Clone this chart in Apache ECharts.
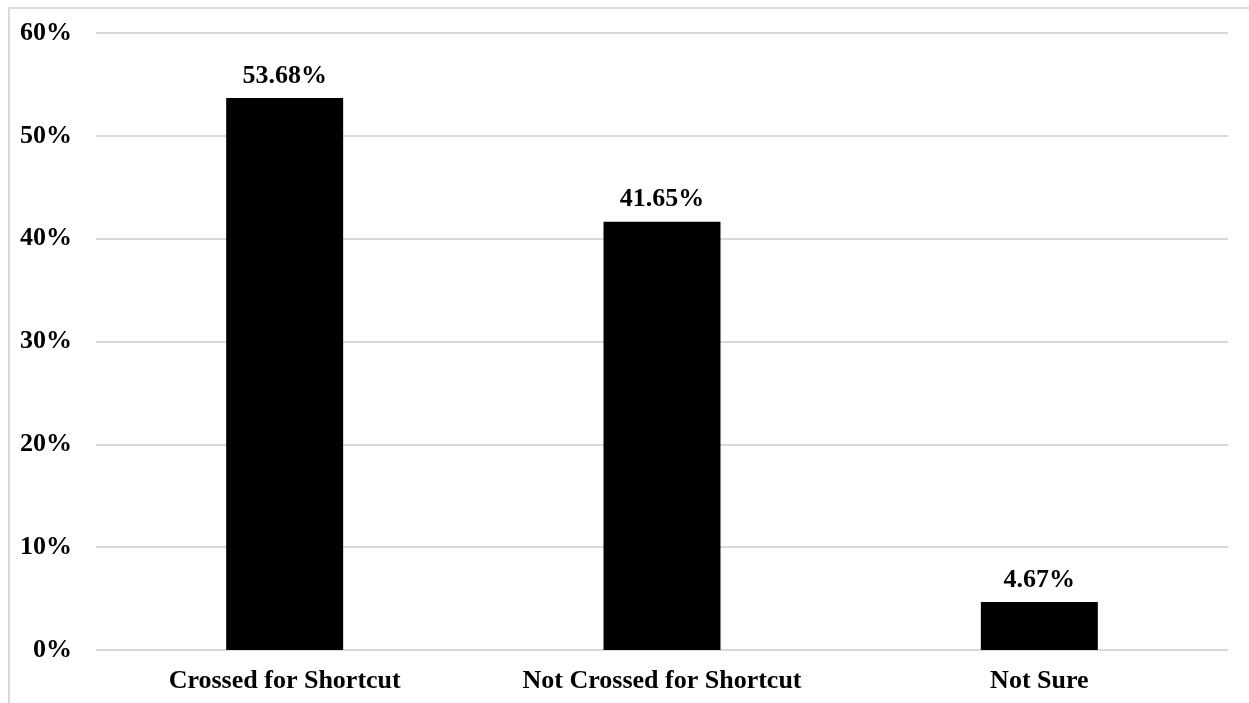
<!DOCTYPE html>
<html>
<head>
<meta charset="utf-8">
<script src="https://cdn.jsdelivr.net/npm/echarts@6/dist/echarts.min.js"></script>
<style>
html,body{margin:0;padding:0;background:#fff;}
#chart{width:1249px;height:703px;}
</style>
</head>
<body>
<div id="chart"></div>
<script>
const categories = ["Crossed for Shortcut", "Not Crossed for Shortcut", "Not Sure"];
const values = [53.68, 41.65, 4.67];
const yTicks = [0, 10, 20, 30, 40, 50, 60];

const chart = echarts.init(document.getElementById('chart'));
const font = '"Liberation Serif", "Times New Roman", serif';
chart.setOption({
  animation: false,
  backgroundColor: '#ffffff',
  grid: { left: 96, right: 21, top: 33, bottom: 53, containLabel: false },
  graphic: [
    { type: 'line', shape: { x1: 8, y1: 8, x2: 1249, y2: 8 }, style: { stroke: '#d9d9d9', lineWidth: 2 } },
    { type: 'line', shape: { x1: 9, y1: 8, x2: 9, y2: 703 }, style: { stroke: '#d9d9d9', lineWidth: 2 } }
  ],
  xAxis: {
    type: 'category',
    data: categories,
    axisTick: { show: false },
    axisLine: { show: false },
    axisLabel: { color: '#000', fontFamily: font, fontWeight: 'bold', fontSize: 26, margin: 18 }
  },
  yAxis: {
    type: 'value',
    min: yTicks[0],
    max: yTicks[yTicks.length - 1],
    interval: 10,
    axisLine: { show: false },
    axisTick: { show: false },
    splitLine: { lineStyle: { color: '#d9d9d9', width: 2 } },
    axisLabel: { color: '#000', fontFamily: font, fontWeight: 'bold', fontSize: 26, margin: 24, formatter: v => v + '%' }
  },
  series: [{
    type: 'bar',
    data: values,
    barWidth: '31%',
    itemStyle: { color: '#000000' },
    label: {
      show: true, position: 'top', distance: 9,
      color: '#000', fontFamily: font, fontWeight: 'bold', fontSize: 26,
      formatter: p => p.value.toFixed(2) + '%'
    }
  }]
});
</script>
</body>
</html>
